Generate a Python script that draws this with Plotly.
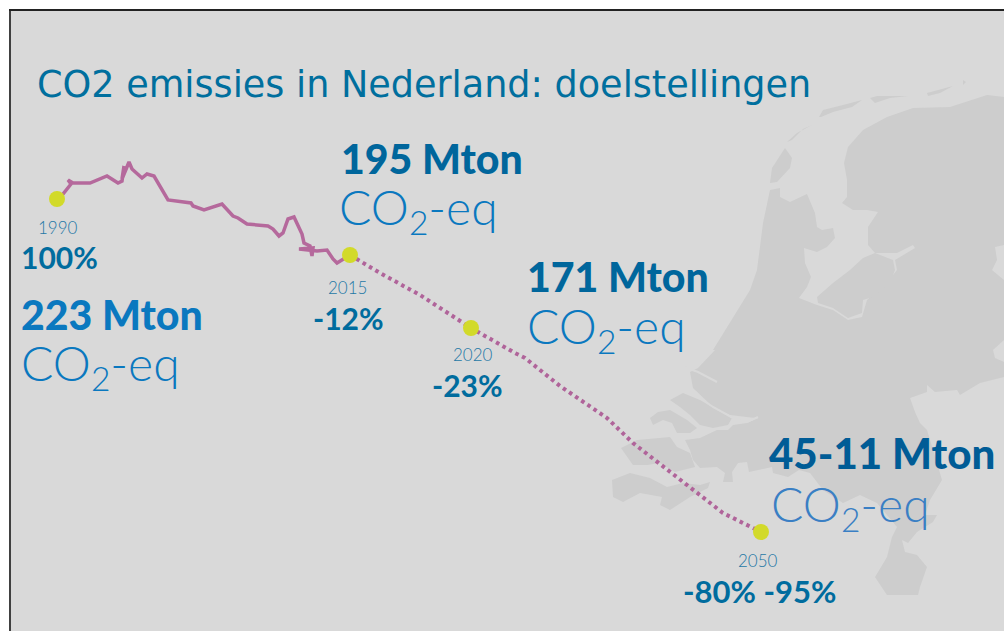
import plotly.graph_objects as go

BG = "#d9d9d9"
LAND = "#cdcdcd"

title_text = "CO2 emissies in Nederland: doelstellingen"

# emission path
emis_x = [57,63,71,68,73,90,107,118,122,124,122,129,132,142,147,154,163,168,191,193,204,222,233,238,247,268,273,279,283,288,294,302,304,310,312,313,299,317,327,333,337,342,350]
emis_y = [199,194,184,180,183,183,176,183,181,166,179,162,169,178,174,176,191,200,203,206,210,204,216,218,224,226,229,236,233,219,217,234,243,246,256,248,249,251,250,259,263,260,255]
goal_x = [350,380,420,471,515,525,560,607,633,680,723,761]
goal_y = [255,273,295,328,353,358,386,418,443,479,513,532]
point_x = [57,350,471,761]
point_y = [199,255,328,532]

# map outlines
main_x = [713,750,757,763,770,780,780,790,807,815,817,822,833,835,827,817,804,805,811,807,799,817,833,848,862,867,883,897,895,915,913,897,875,868,868,878,867,853,842,847,847,844,848,863,887,913,950,987,1004,1004,980,960,957,935,927,927,910,915,920,927,937,942,930,925,937,933,917,908,902,905,917,927,920,918,887,875,887,892,897,877,860,843,823,810,799,788,773,772,749,747,738,732,733,723,725,717,700,693,690,685,700,717,728,733,747,758,755,730,713,693,690,698,715]
main_y = [350,290,270,223,190,188,197,202,194,213,227,230,228,238,247,252,248,263,277,287,298,305,310,320,317,300,287,270,260,248,245,253,253,245,227,212,210,210,203,197,180,163,147,130,117,108,107,95,97,377,383,395,390,392,385,392,398,412,423,430,463,480,500,515,515,522,532,543,540,552,555,567,587,595,595,577,557,537,527,503,495,503,490,473,470,477,473,467,472,462,463,472,482,482,473,467,468,460,450,440,438,430,430,425,423,418,418,415,407,388,372,368,350]
flevo_x = [817,833,850,863,875,893,895,890,873,863,862,848,833,818]
flevo_y = [297,283,270,258,253,260,270,283,297,300,313,318,308,303]
texel_x = [785,792,790,777,770,772]
texel_y = [148,158,168,182,183,168]
vlie_x = [787,797,812,803,792]
vlie_y = [142,133,125,129,140]
ters_x = [819,823,843,862,852,833,821]
ters_y = [117,110,105,100,107,112,117]
amel_x = [870,877,908,890,875]
amel_y = [98,96,96,98,103]
schier_x = [927,953,940,928]
schier_y = [93,86,93,96]
rott_x = [963,966,963]
rott_y = [80,82,85]
goeree_x = [670,683,700,717,732,728,713,700,690,680]
goeree_y = [400,393,400,410,418,425,428,425,415,407]
schouw_x = [650,658,670,687,697,690,677,672,663,653]
schouw_y = [418,412,410,420,428,433,433,423,420,425]
walch_x = [621,637,670,677,690,695,675,660,647,633]
walch_y = [448,440,437,447,453,467,472,463,465,465]
vlaand_x = [612,630,650,667,683,700,710,708,690,670,660,662,640,623,613]
vlaand_y = [480,473,478,487,483,485,482,488,497,510,505,497,493,502,497]
de1_x = [995,1004,1004,992,997]
de1_y = [247,245,280,270,260]
de2_x = [993,1004,1004,995]
de2_y = [350,340,362,358]
river_x = [693,713,733,747,758]
river_y = [393,407,418,422,417]
water_x = [684,698,717]
water_y = [367,372,382]

# text labels
year_labels = ["1990","2015","2020","2050"]
year_x = [58,347,473,758]
year_y = [227,287,354,560]
pct_labels = ["100%","-12%","-23%","-80% -95%"]
pct_x = [59,348,467,759]
pct_y = [257,318,385,591]
mton_labels = ["223 Mton","195 Mton","171 Mton","45-11 Mton"]
mton_x = [21,341,527,769]
mton_y = [314,158,276,453]
mton_sizes = [41,41,41,42]
mton_colors = ["#0a78bf","#00669c","#00669c","#005c96"]
eq_x = [21,339,527,771]
eq_y = [366,210,329,507]
eq_colors = ["#0a78bf","#0a78bf","#0a78bf","#3a7fc4"]

fig = go.Figure()

def area(x, y, color):
    fig.add_trace(go.Scatter(x=x, y=y, fill="toself", fillcolor=color, mode="none", hoverinfo="skip", showlegend=False))

area(main_x, main_y, LAND)
for xs, ys in [(flevo_x,flevo_y),(texel_x,texel_y),(vlie_x,vlie_y),(ters_x,ters_y),(amel_x,amel_y),(schier_x,schier_y),(rott_x,rott_y),(goeree_x,goeree_y),(schouw_x,schouw_y),(walch_x,walch_y),(vlaand_x,vlaand_y)]:
    area(xs, ys, LAND)
area(de1_x, de1_y, BG)
area(de2_x, de2_y, BG)
for xs, ys in [(river_x,river_y),(water_x,water_y)]:
    fig.add_trace(go.Scatter(x=xs, y=ys, mode="lines", line=dict(color=BG, width=2), hoverinfo="skip", showlegend=False))

fig.add_trace(go.Scatter(x=goal_x, y=goal_y, mode="lines", line=dict(color="#b0649a", width=4, dash="3.6px,3.8px"), showlegend=False))
fig.add_trace(go.Scatter(x=emis_x, y=emis_y, mode="lines", line=dict(color="#b5699c", width=3.5), showlegend=False))
fig.add_trace(go.Scatter(x=point_x, y=point_y, mode="markers", marker=dict(color="#d2da2a", size=16), showlegend=False))

def label(x, y, text, size, color, anchor="left", family="Lato", weight=None):
    font = dict(family=family, size=size, color=color)
    if weight:
        font["weight"] = weight
    fig.add_annotation(x=x, y=y, text=text, showarrow=False, xanchor=anchor, yanchor="middle", font=font, borderpad=0, borderwidth=0)

label(37, 84, title_text, 36.6, "#006f9e", family="DejaVu Sans")
for x, y, t in zip(year_x, year_y, year_labels):
    label(x, y, t, 17, "#1f78a6", "center", weight=300)
for x, y, t, s in zip(pct_x, pct_y, pct_labels, [30,30,30,31]):
    label(x, y, t, s, "#006c9e", "center", weight=700)
for x, y, t, c, s in zip(mton_x, mton_y, mton_labels, mton_colors, mton_sizes):
    label(x, y, t, s, c, weight=900)
for x, y, c in zip(eq_x, eq_y, eq_colors):
    label(x, y, "CO<sub>2</sub>-eq", 48, c, weight=300)

fig.update_layout(
    width=1004, height=631, margin=dict(l=11, r=0, t=11, b=0),
    paper_bgcolor="white", plot_bgcolor=BG, showlegend=False,
    xaxis=dict(range=[11,1004], visible=True, showgrid=False, zeroline=False, showticklabels=False, ticks="",
               showline=True, linecolor="#222222", linewidth=2, side="top"),
    yaxis=dict(range=[631,11], visible=True, showgrid=False, zeroline=False, showticklabels=False, ticks="",
               showline=True, linecolor="#404040", linewidth=2),
)
fig.write_html("out.html", config=dict(displayModeBar=False), post_script="document.body.style.margin='0';document.body.style.overflow='hidden';")
